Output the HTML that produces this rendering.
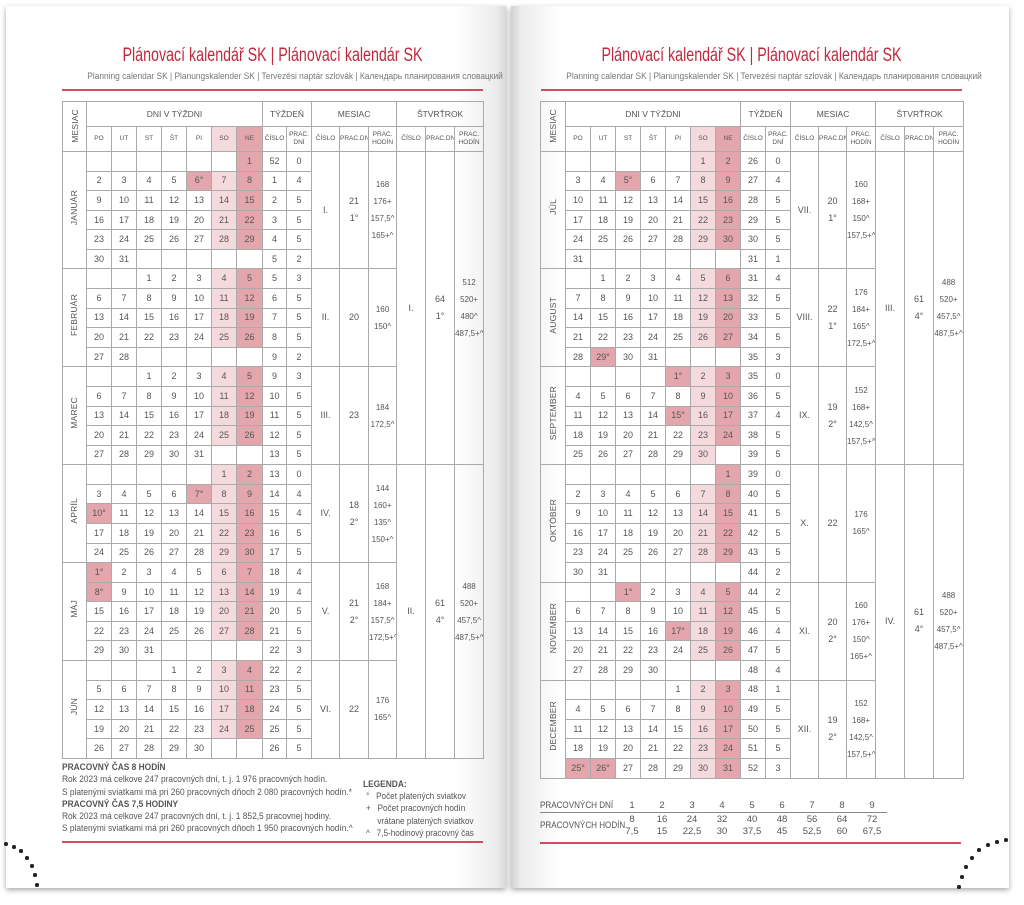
<!DOCTYPE html>
<html><head><meta charset="utf-8"><style>
*{margin:0;padding:0;box-sizing:border-box}
body{width:1024px;height:905px;background:#fff;position:relative;overflow:hidden;font-family:"Liberation Sans Narrow","Liberation Sans","DejaVu Sans Condensed",sans-serif;color:#555}
.pg{position:absolute;top:6px;height:882px;background:#fff;box-shadow:0 2px 5px rgba(0,0,0,.35)}
#pl{left:6px;width:500px;background:linear-gradient(to right,#fff 90%,#ececec 98%,#d8d8d8)}
#pr{left:511px;width:498px;background:linear-gradient(to left,#fff 90%,#ececec 98%,#d0d0d0)}
.t{position:absolute;text-align:center;color:#c4283e;font-size:19px;width:421px;transform:scaleX(.75);white-space:nowrap}
.st{position:absolute;text-align:center;color:#777;font-size:9.5px;width:421px;white-space:nowrap;transform:scaleX(.88)}
.rl{position:absolute;height:1.5px;background:#cf4d63;width:421px}
table{position:absolute;border-collapse:collapse;table-layout:fixed;width:422px;font-size:9px;color:#555}
td,th{border:1px solid #aaa;text-align:center;vertical-align:middle;padding:0;font-weight:normal;overflow:hidden;white-space:nowrap;line-height:17px}
thead tr.h1{height:25px}thead tr.h2{height:25px}
thead th{font-size:6.5px;line-height:8px}
thead tr.h1 th{font-size:8.5px}
tbody tr{height:19.58px}
td.q{font-size:8px}
.s{background:#f5dadd}.n{background:#e4a6ad}
.v{writing-mode:vertical-rl;transform:rotate(180deg);display:inline-block;font-size:8.5px;letter-spacing:.2px}
.note{position:absolute;font-size:9.5px;color:#555;line-height:12.3px;white-space:nowrap;transform-origin:0 0}
b{color:#555}
.dot{position:absolute;width:3.5px;height:3.5px;border-radius:50%;background:#222}
</style></head><body>
<div class="pg" id="pl"></div><div class="pg" id="pr"></div>

<div class="t" style="left:62px;top:45px">Plánovací kalendář SK | Plánovací kalendár SK</div>
<div class="st" style="left:62px;top:71px">Planning calendar SK | Planungskalender SK | Tervezési naptár szlovák | Календарь планирования словацкий</div>
<div class="rl" style="left:62px;top:89px"></div>
<div class="t" style="left:541px;top:45px">Plánovací kalendář SK | Plánovací kalendár SK</div>
<div class="st" style="left:541px;top:71px">Planning calendar SK | Planungskalender SK | Tervezési naptár szlovák | Календарь планирования словацкий</div>
<div class="rl" style="left:541px;top:89px"></div>

<table style="left:62px;top:101px">
<colgroup><col style="width:24px"><col style="width:25px"><col style="width:25px"><col style="width:25px"><col style="width:25px"><col style="width:25px"><col style="width:25px"><col style="width:26px"><col style="width:24px"><col style="width:25px"><col style="width:28px"><col style="width:29px"><col style="width:28px"><col style="width:29px"><col style="width:29px"><col style="width:29px"></colgroup>
<thead><tr class="h1"><th rowspan="2"><span class="v">MESIAC</span></th><th colspan="7">DNI V TÝŽDNI</th><th colspan="2">TÝŽDEŇ</th><th colspan="3">MESIAC</th><th colspan="3">ŠTVRŤROK</th></tr>
<tr class="h2"><th>PO</th><th>UT</th><th>ST</th><th>ŠT</th><th>PI</th><th class="s">SO</th><th class="n">NE</th><th>ČÍSLO</th><th>PRAC.<br>DNÍ</th><th>ČÍSLO</th><th>PRAC.DNÍ</th><th>PRAC.<br>HODÍN</th><th>ČÍSLO</th><th>PRAC.DNÍ</th><th>PRAC.<br>HODÍN</th></tr></thead>
<tbody>
<tr><td rowspan="6"><span class="v">JANUÁR</span></td><td></td><td></td><td></td><td></td><td></td><td></td><td class="n">1</td><td>52</td><td>0</td><td rowspan="6">I.</td><td rowspan="6">21<br>1°</td><td class="q" rowspan="6">168<br>176+<br>157,5^<br>165+^</td><td rowspan="16">I.</td><td rowspan="16">64<br>1°</td><td class="q" rowspan="16">512<br>520+<br>480^<br>487,5+^</td></tr>
<tr><td>2</td><td>3</td><td>4</td><td>5</td><td class="n">6°</td><td class="s">7</td><td class="n">8</td><td>1</td><td>4</td></tr>
<tr><td>9</td><td>10</td><td>11</td><td>12</td><td>13</td><td class="s">14</td><td class="n">15</td><td>2</td><td>5</td></tr>
<tr><td>16</td><td>17</td><td>18</td><td>19</td><td>20</td><td class="s">21</td><td class="n">22</td><td>3</td><td>5</td></tr>
<tr><td>23</td><td>24</td><td>25</td><td>26</td><td>27</td><td class="s">28</td><td class="n">29</td><td>4</td><td>5</td></tr>
<tr><td>30</td><td>31</td><td></td><td></td><td></td><td></td><td></td><td>5</td><td>2</td></tr>
<tr><td rowspan="5"><span class="v">FEBRUÁR</span></td><td></td><td></td><td>1</td><td>2</td><td>3</td><td class="s">4</td><td class="n">5</td><td>5</td><td>3</td><td rowspan="5">II.</td><td rowspan="5">20</td><td class="q" rowspan="5">160<br>150^</td></tr>
<tr><td>6</td><td>7</td><td>8</td><td>9</td><td>10</td><td class="s">11</td><td class="n">12</td><td>6</td><td>5</td></tr>
<tr><td>13</td><td>14</td><td>15</td><td>16</td><td>17</td><td class="s">18</td><td class="n">19</td><td>7</td><td>5</td></tr>
<tr><td>20</td><td>21</td><td>22</td><td>23</td><td>24</td><td class="s">25</td><td class="n">26</td><td>8</td><td>5</td></tr>
<tr><td>27</td><td>28</td><td></td><td></td><td></td><td></td><td></td><td>9</td><td>2</td></tr>
<tr><td rowspan="5"><span class="v">MAREC</span></td><td></td><td></td><td>1</td><td>2</td><td>3</td><td class="s">4</td><td class="n">5</td><td>9</td><td>3</td><td rowspan="5">III.</td><td rowspan="5">23</td><td class="q" rowspan="5">184<br>172,5^</td></tr>
<tr><td>6</td><td>7</td><td>8</td><td>9</td><td>10</td><td class="s">11</td><td class="n">12</td><td>10</td><td>5</td></tr>
<tr><td>13</td><td>14</td><td>15</td><td>16</td><td>17</td><td class="s">18</td><td class="n">19</td><td>11</td><td>5</td></tr>
<tr><td>20</td><td>21</td><td>22</td><td>23</td><td>24</td><td class="s">25</td><td class="n">26</td><td>12</td><td>5</td></tr>
<tr><td>27</td><td>28</td><td>29</td><td>30</td><td>31</td><td></td><td></td><td>13</td><td>5</td></tr>
<tr><td rowspan="5"><span class="v">APRÍL</span></td><td></td><td></td><td></td><td></td><td></td><td class="s">1</td><td class="n">2</td><td>13</td><td>0</td><td rowspan="5">IV.</td><td rowspan="5">18<br>2°</td><td class="q" rowspan="5">144<br>160+<br>135^<br>150+^</td><td rowspan="15">II.</td><td rowspan="15">61<br>4°</td><td class="q" rowspan="15">488<br>520+<br>457,5^<br>487,5+^</td></tr>
<tr><td>3</td><td>4</td><td>5</td><td>6</td><td class="n">7°</td><td class="s">8</td><td class="n">9</td><td>14</td><td>4</td></tr>
<tr><td class="n">10°</td><td>11</td><td>12</td><td>13</td><td>14</td><td class="s">15</td><td class="n">16</td><td>15</td><td>4</td></tr>
<tr><td>17</td><td>18</td><td>19</td><td>20</td><td>21</td><td class="s">22</td><td class="n">23</td><td>16</td><td>5</td></tr>
<tr><td>24</td><td>25</td><td>26</td><td>27</td><td>28</td><td class="s">29</td><td class="n">30</td><td>17</td><td>5</td></tr>
<tr><td rowspan="5"><span class="v">MÁJ</span></td><td class="n">1°</td><td>2</td><td>3</td><td>4</td><td>5</td><td class="s">6</td><td class="n">7</td><td>18</td><td>4</td><td rowspan="5">V.</td><td rowspan="5">21<br>2°</td><td class="q" rowspan="5">168<br>184+<br>157,5^<br>172,5+^</td></tr>
<tr><td class="n">8°</td><td>9</td><td>10</td><td>11</td><td>12</td><td class="s">13</td><td class="n">14</td><td>19</td><td>4</td></tr>
<tr><td>15</td><td>16</td><td>17</td><td>18</td><td>19</td><td class="s">20</td><td class="n">21</td><td>20</td><td>5</td></tr>
<tr><td>22</td><td>23</td><td>24</td><td>25</td><td>26</td><td class="s">27</td><td class="n">28</td><td>21</td><td>5</td></tr>
<tr><td>29</td><td>30</td><td>31</td><td></td><td></td><td></td><td></td><td>22</td><td>3</td></tr>
<tr><td rowspan="5"><span class="v">JÚN</span></td><td></td><td></td><td></td><td>1</td><td>2</td><td class="s">3</td><td class="n">4</td><td>22</td><td>2</td><td rowspan="5">VI.</td><td rowspan="5">22</td><td class="q" rowspan="5">176<br>165^</td></tr>
<tr><td>5</td><td>6</td><td>7</td><td>8</td><td>9</td><td class="s">10</td><td class="n">11</td><td>23</td><td>5</td></tr>
<tr><td>12</td><td>13</td><td>14</td><td>15</td><td>16</td><td class="s">17</td><td class="n">18</td><td>24</td><td>5</td></tr>
<tr><td>19</td><td>20</td><td>21</td><td>22</td><td>23</td><td class="s">24</td><td class="n">25</td><td>25</td><td>5</td></tr>
<tr><td>26</td><td>27</td><td>28</td><td>29</td><td>30</td><td></td><td></td><td>26</td><td>5</td></tr>
</tbody></table>

<table style="left:540px;top:101px">
<colgroup><col style="width:25px"><col style="width:25px"><col style="width:25px"><col style="width:25px"><col style="width:25px"><col style="width:25px"><col style="width:25px"><col style="width:25px"><col style="width:25px"><col style="width:25px"><col style="width:28px"><col style="width:28px"><col style="width:29px"><col style="width:29px"><col style="width:29px"><col style="width:30px"></colgroup>
<thead><tr class="h1"><th rowspan="2"><span class="v">MESIAC</span></th><th colspan="7">DNI V TÝŽDNI</th><th colspan="2">TÝŽDEŇ</th><th colspan="3">MESIAC</th><th colspan="3">ŠTVRŤROK</th></tr>
<tr class="h2"><th>PO</th><th>UT</th><th>ST</th><th>ŠT</th><th>PI</th><th class="s">SO</th><th class="n">NE</th><th>ČÍSLO</th><th>PRAC.<br>DNÍ</th><th>ČÍSLO</th><th>PRAC.DNÍ</th><th>PRAC.<br>HODÍN</th><th>ČÍSLO</th><th>PRAC.DNÍ</th><th>PRAC.<br>HODÍN</th></tr></thead>
<tbody>
<tr><td rowspan="6"><span class="v">JÚL</span></td><td></td><td></td><td></td><td></td><td></td><td class="s">1</td><td class="n">2</td><td>26</td><td>0</td><td rowspan="6">VII.</td><td rowspan="6">20<br>1°</td><td class="q" rowspan="6">160<br>168+<br>150^<br>157,5+^</td><td rowspan="16">III.</td><td rowspan="16">61<br>4°</td><td class="q" rowspan="16">488<br>520+<br>457,5^<br>487,5+^</td></tr>
<tr><td>3</td><td>4</td><td class="n">5°</td><td>6</td><td>7</td><td class="s">8</td><td class="n">9</td><td>27</td><td>4</td></tr>
<tr><td>10</td><td>11</td><td>12</td><td>13</td><td>14</td><td class="s">15</td><td class="n">16</td><td>28</td><td>5</td></tr>
<tr><td>17</td><td>18</td><td>19</td><td>20</td><td>21</td><td class="s">22</td><td class="n">23</td><td>29</td><td>5</td></tr>
<tr><td>24</td><td>25</td><td>26</td><td>27</td><td>28</td><td class="s">29</td><td class="n">30</td><td>30</td><td>5</td></tr>
<tr><td>31</td><td></td><td></td><td></td><td></td><td></td><td></td><td>31</td><td>1</td></tr>
<tr><td rowspan="5"><span class="v">AUGUST</span></td><td></td><td>1</td><td>2</td><td>3</td><td>4</td><td class="s">5</td><td class="n">6</td><td>31</td><td>4</td><td rowspan="5">VIII.</td><td rowspan="5">22<br>1°</td><td class="q" rowspan="5">176<br>184+<br>165^<br>172,5+^</td></tr>
<tr><td>7</td><td>8</td><td>9</td><td>10</td><td>11</td><td class="s">12</td><td class="n">13</td><td>32</td><td>5</td></tr>
<tr><td>14</td><td>15</td><td>16</td><td>17</td><td>18</td><td class="s">19</td><td class="n">20</td><td>33</td><td>5</td></tr>
<tr><td>21</td><td>22</td><td>23</td><td>24</td><td>25</td><td class="s">26</td><td class="n">27</td><td>34</td><td>5</td></tr>
<tr><td>28</td><td class="n">29°</td><td>30</td><td>31</td><td></td><td></td><td></td><td>35</td><td>3</td></tr>
<tr><td rowspan="5"><span class="v">SEPTEMBER</span></td><td></td><td></td><td></td><td></td><td class="n">1°</td><td class="s">2</td><td class="n">3</td><td>35</td><td>0</td><td rowspan="5">IX.</td><td rowspan="5">19<br>2°</td><td class="q" rowspan="5">152<br>168+<br>142,5^<br>157,5+^</td></tr>
<tr><td>4</td><td>5</td><td>6</td><td>7</td><td>8</td><td class="s">9</td><td class="n">10</td><td>36</td><td>5</td></tr>
<tr><td>11</td><td>12</td><td>13</td><td>14</td><td class="n">15°</td><td class="s">16</td><td class="n">17</td><td>37</td><td>4</td></tr>
<tr><td>18</td><td>19</td><td>20</td><td>21</td><td>22</td><td class="s">23</td><td class="n">24</td><td>38</td><td>5</td></tr>
<tr><td>25</td><td>26</td><td>27</td><td>28</td><td>29</td><td class="s">30</td><td></td><td>39</td><td>5</td></tr>
<tr><td rowspan="6"><span class="v">OKTÓBER</span></td><td></td><td></td><td></td><td></td><td></td><td></td><td class="n">1</td><td>39</td><td>0</td><td rowspan="6">X.</td><td rowspan="6">22</td><td class="q" rowspan="6">176<br>165^</td><td rowspan="16">IV.</td><td rowspan="16">61<br>4°</td><td class="q" rowspan="16">488<br>520+<br>457,5^<br>487,5+^</td></tr>
<tr><td>2</td><td>3</td><td>4</td><td>5</td><td>6</td><td class="s">7</td><td class="n">8</td><td>40</td><td>5</td></tr>
<tr><td>9</td><td>10</td><td>11</td><td>12</td><td>13</td><td class="s">14</td><td class="n">15</td><td>41</td><td>5</td></tr>
<tr><td>16</td><td>17</td><td>18</td><td>19</td><td>20</td><td class="s">21</td><td class="n">22</td><td>42</td><td>5</td></tr>
<tr><td>23</td><td>24</td><td>25</td><td>26</td><td>27</td><td class="s">28</td><td class="n">29</td><td>43</td><td>5</td></tr>
<tr><td>30</td><td>31</td><td></td><td></td><td></td><td></td><td></td><td>44</td><td>2</td></tr>
<tr><td rowspan="5"><span class="v">NOVEMBER</span></td><td></td><td></td><td class="n">1°</td><td>2</td><td>3</td><td class="s">4</td><td class="n">5</td><td>44</td><td>2</td><td rowspan="5">XI.</td><td rowspan="5">20<br>2°</td><td class="q" rowspan="5">160<br>176+<br>150^<br>165+^</td></tr>
<tr><td>6</td><td>7</td><td>8</td><td>9</td><td>10</td><td class="s">11</td><td class="n">12</td><td>45</td><td>5</td></tr>
<tr><td>13</td><td>14</td><td>15</td><td>16</td><td class="n">17°</td><td class="s">18</td><td class="n">19</td><td>46</td><td>4</td></tr>
<tr><td>20</td><td>21</td><td>22</td><td>23</td><td>24</td><td class="s">25</td><td class="n">26</td><td>47</td><td>5</td></tr>
<tr><td>27</td><td>28</td><td>29</td><td>30</td><td></td><td></td><td></td><td>48</td><td>4</td></tr>
<tr><td rowspan="5"><span class="v">DECEMBER</span></td><td></td><td></td><td></td><td></td><td>1</td><td class="s">2</td><td class="n">3</td><td>48</td><td>1</td><td rowspan="5">XII.</td><td rowspan="5">19<br>2°</td><td class="q" rowspan="5">152<br>168+<br>142,5^<br>157,5+^</td></tr>
<tr><td>4</td><td>5</td><td>6</td><td>7</td><td>8</td><td class="s">9</td><td class="n">10</td><td>49</td><td>5</td></tr>
<tr><td>11</td><td>12</td><td>13</td><td>14</td><td>15</td><td class="s">16</td><td class="n">17</td><td>50</td><td>5</td></tr>
<tr><td>18</td><td>19</td><td>20</td><td>21</td><td>22</td><td class="s">23</td><td class="n">24</td><td>51</td><td>5</td></tr>
<tr><td class="n">25°</td><td class="n">26°</td><td>27</td><td>28</td><td>29</td><td class="s">30</td><td class="n">31</td><td>52</td><td>3</td></tr>
</tbody></table>

<div class="note" style="left:62px;top:762px;transform:scaleX(.88)"><b>PRACOVNÝ ČAS 8 HODÍN</b><br>Rok 2023 má celkove 247 pracovných dní, t. j. 1 976 pracovných hodín.<br>S platenými sviatkami má pri 260 pracovných dňoch 2 080 pracovných hodín.*<br><b>PRACOVNÝ ČAS 7,5 HODINY</b><br>Rok 2023 má celkove 247 pracovných dní, t. j. 1 852,5 pracovnej hodiny.<br>S platenými sviatkami má pri 260 pracovných dňoch 1 950 pracovných hodín.^</div>
<div class="note" style="left:363px;top:779px;transform:scaleX(.88)"><b>LEGENDA:</b></div>
<div class="note" style="left:366px;top:791px;transform:scaleX(.86)">°&nbsp;&nbsp;&nbsp;Počet platených sviatkov<br>+&nbsp;&nbsp;&nbsp;Počet pracovných hodín<br>&nbsp;&nbsp;&nbsp;&nbsp;&nbsp;vrátane platených sviatkov<br>^&nbsp;&nbsp;&nbsp;7,5-hodinový pracovný čas</div>
<div class="rl" style="left:62px;top:841px"></div>

<div class="note" style="left:540px;top:800px;transform:scaleX(.85)">PRACOVNÝCH DNÍ</div>
<div class="note" style="left:540px;top:820px;transform:scaleX(.85)">PRACOVNÝCH HODÍN</div>
<div style="position:absolute;left:540px;top:812px;width:347px;height:1px;background:#888"></div>
<div class="note" style="left:620px;top:800px;width:264px;display:flex;justify-content:space-between;text-align:center"><span style="width:24px">1</span><span style="width:24px">2</span><span style="width:24px">3</span><span style="width:24px">4</span><span style="width:24px">5</span><span style="width:24px">6</span><span style="width:24px">7</span><span style="width:24px">8</span><span style="width:24px">9</span></div>
<div class="note" style="left:620px;top:814px;width:264px;display:flex;justify-content:space-between;text-align:center"><span style="width:24px">8<br>7,5</span><span style="width:24px">16<br>15</span><span style="width:24px">24<br>22,5</span><span style="width:24px">32<br>30</span><span style="width:24px">40<br>37,5</span><span style="width:24px">48<br>45</span><span style="width:24px">56<br>52,5</span><span style="width:24px">64<br>60</span><span style="width:24px">72<br>67,5</span></div>
<div class="rl" style="left:540px;top:842px"></div>

<div class="dot" style="left:4px;top:842px"></div><div class="dot" style="left:12px;top:845px"></div><div class="dot" style="left:19px;top:849px"></div><div class="dot" style="left:25px;top:856px"></div><div class="dot" style="left:30px;top:864px"></div><div class="dot" style="left:33px;top:873px"></div><div class="dot" style="left:35px;top:883px"></div>
<div class="dot" style="left:1004px;top:838px"></div><div class="dot" style="left:995px;top:840px"></div><div class="dot" style="left:986px;top:843px"></div><div class="dot" style="left:977px;top:848px"></div><div class="dot" style="left:970px;top:856px"></div><div class="dot" style="left:964px;top:865px"></div><div class="dot" style="left:960px;top:875px"></div><div class="dot" style="left:957px;top:885px"></div>
</body></html>
